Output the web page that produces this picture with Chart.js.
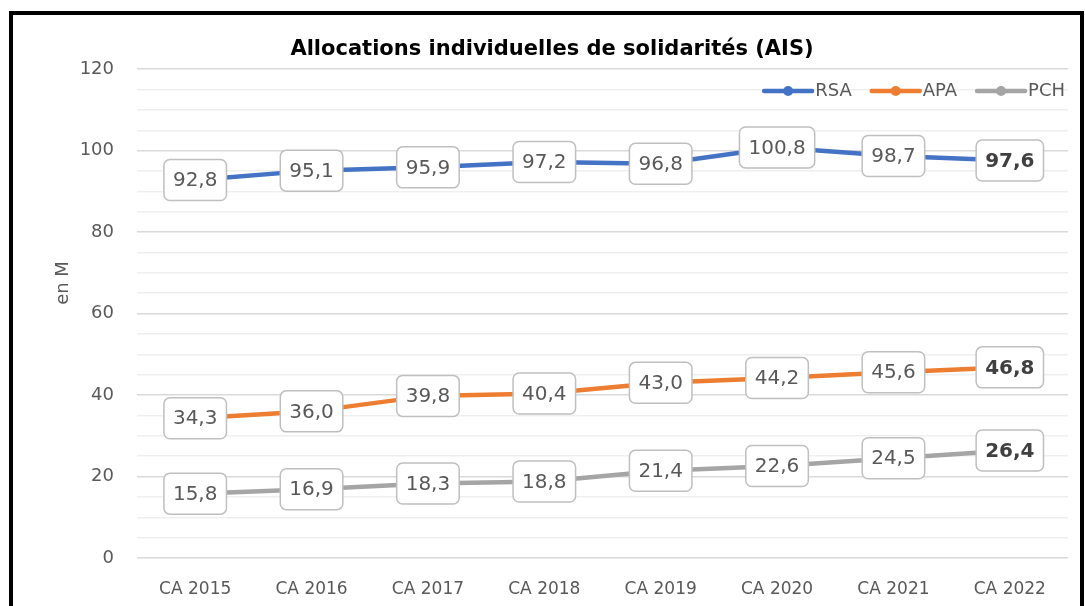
<!DOCTYPE html>
<html>
<head>
<meta charset="utf-8">
<script src="https://cdn.jsdelivr.net/npm/chart.js@4"></script>
<style>
    body { margin: 0; background: #fff; }
    .wrap { position: relative; width: 1085px; height: 606px; overflow: hidden; }
    .frame { position: absolute; left: 9px; top: 11px; width: 1067px; height: 700px; border: 4px solid #000; pointer-events: none; }
</style>
</head>
<body>
<div class="wrap">
    <canvas id="chart" width="1085" height="606"></canvas>
    <div class="frame"></div>
</div>
<script>
const labels = ['CA 2015', 'CA 2016', 'CA 2017', 'CA 2018', 'CA 2019', 'CA 2020', 'CA 2021', 'CA 2022'];
const rsa = [92.8, 95.1, 95.9, 97.2, 96.8, 100.8, 98.7, 97.6];
const apa = [34.3, 36.0, 39.8, 40.4, 43.0, 44.2, 45.6, 46.8];
const pch = [15.8, 16.9, 18.3, 18.8, 21.4, 22.6, 24.5, 26.4];

const font = '"DejaVu Sans", sans-serif';

// boxed value labels, last one in bold
const valueLabels = {
    id: 'valueLabels',
    afterDatasetsDraw(chart) {
        const { ctx } = chart;
        ctx.save();
        chart.data.datasets.forEach((ds, i) => {
            chart.getDatasetMeta(i).data.forEach((pt, index) => {
                const last = index === ds.data.length - 1;
                const text = ds.data[index].toFixed(1).replace('.', ',');
                ctx.font = (last ? 'bold ' : '') + '20px ' + font;
                const w = ctx.measureText(text).width + 18;
                const h = 41;
                const x = pt.x - w / 2;
                const y = pt.y - h / 2;
                ctx.beginPath();
                ctx.roundRect(x, y, w, h, 6);
                ctx.fillStyle = '#fff';
                ctx.fill();
                ctx.lineWidth = 1.5;
                ctx.strokeStyle = '#bfbfbf';
                ctx.stroke();
                ctx.fillStyle = last ? '#404040' : '#595959';
                ctx.textAlign = 'center';
                ctx.textBaseline = 'middle';
                ctx.fillText(text, pt.x, pt.y + 1);
            });
        });
        ctx.restore();
    }
};

// legend inside the plot (top right) and the y axis title
const topLegend = {
    id: 'topLegend',
    afterDraw(chart) {
        const { ctx } = chart;
        ctx.save();
        ctx.font = '18px ' + font;
        ctx.textBaseline = 'middle';
        const y = 91;
        let x = 1065;
        const items = chart.data.datasets.slice().reverse();
        items.forEach(ds => {
            const tw = ctx.measureText(ds.label).width;
            x -= tw;
            ctx.fillStyle = '#595959';
            ctx.textAlign = 'left';
            ctx.fillText(ds.label, x, y);
            const x1 = x - 3;
            const x0 = x1 - 48;
            ctx.strokeStyle = ds.borderColor;
            ctx.lineWidth = 4.5;
            ctx.lineCap = 'round';
            ctx.beginPath();
            ctx.moveTo(x0, y);
            ctx.lineTo(x1, y);
            ctx.stroke();
            ctx.fillStyle = ds.borderColor;
            ctx.beginPath();
            ctx.arc((x0 + x1) / 2, y, 5, 0, Math.PI * 2);
            ctx.fill();
            x = x0 - 20;
        });

        ctx.translate(63, 283);
        ctx.rotate(-Math.PI / 2);
        ctx.textAlign = 'center';
        ctx.fillStyle = '#595959';
        ctx.fillText('en M', 0, 0);
        ctx.restore();
    }
};

const data = {
    labels: labels,
    datasets: [
        { label: 'RSA', data: rsa, borderColor: '#4472c4', backgroundColor: '#4472c4' },
        { label: 'APA', data: apa, borderColor: '#ed7d31', backgroundColor: '#ed7d31' },
        { label: 'PCH', data: pch, borderColor: '#a5a5a5', backgroundColor: '#a5a5a5' }
    ].map(ds => Object.assign(ds, { borderWidth: 4.5, pointRadius: 0, tension: 0, fill: false }))
};

const config = {
    type: 'line',
    data: data,
    options: {
        responsive: false,
        animation: false,
        layout: { padding: { left: 36, right: 17, top: 0, bottom: 0 } },
        scales: {
            x: {
                offset: true,
                grid: { display: false },
                border: { display: false },
                ticks: { color: '#595959', font: { family: font, size: 17 }, padding: 13 },
                afterFit(scale) { scale.height = 48; }
            },
            y: {
                min: 0,
                max: 120,
                border: { display: false },
                grid: {
                    drawTicks: false,
                    lineWidth: 1.5,
                    color: ctx => ctx.tick && ctx.tick.value % 20 === 0 ? '#d9d9d9' : '#efefef'
                },
                ticks: {
                    stepSize: 5,
                    autoSkip: false,
                    padding: 23,
                    color: '#595959',
                    font: { family: font, size: 18 },
                    callback: v => v % 20 === 0 ? v : ''
                },
                afterFit(scale) { scale.width = 101; }
            }
        },
        plugins: {
            legend: { display: false },
            tooltip: { enabled: false },
            title: {
                display: true,
                text: 'Allocations individuelles de solidarités (AIS)',
                color: '#000',
                font: { family: font, size: 21, weight: 'bold' },
                padding: { top: 37, bottom: 7 }
            }
        }
    },
    plugins: [valueLabels, topLegend]
};

const myChart = new Chart(document.getElementById('chart'), config);
</script>
</body>
</html>
